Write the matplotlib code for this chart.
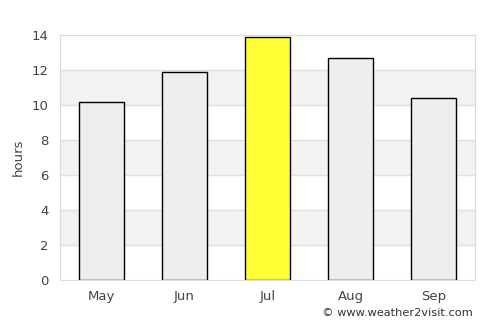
import matplotlib
matplotlib.use("Agg")
import matplotlib.pyplot as plt

months = ["May", "Jun", "Jul", "Aug", "Sep"]
hours = [10.2, 11.9, 13.9, 12.7, 10.4]
colors = ["#eeeeee", "#eeeeee", "#ffff33", "#eeeeee", "#eeeeee"]
yticks = [0, 2, 4, 6, 8, 10, 12, 14]

fig = plt.figure(figsize=(5, 3.25), dpi=100)
ax = fig.add_axes([60/500, 1-280/325, 415/500, 245/325])

for lo in (2, 6, 10):
    ax.axhspan(lo, lo+2, color="#f2f2f2", zorder=0, lw=0)
for y in yticks[1:-1]:
    ax.axhline(y, color="#e0e0e0", lw=1, zorder=0.5)

x = list(range(len(months)))
ax.bar(x, hours, width=0.54, color=colors, edgecolor="black", linewidth=1, zorder=2)

ax.set_xlim(-0.5, 4.5)
ax.set_ylim(0, 14)
ax.set_yticks(yticks)
ax.set_xticks(x)
ax.set_xticklabels(months)
ax.tick_params(axis="both", length=0, labelsize=9.5, labelcolor="#444444")
ax.tick_params(axis="y", pad=8)
ax.tick_params(axis="x", pad=7)
for s in ax.spines.values():
    s.set_color("#dddddd")
ax.set_ylabel("hours", fontsize=9.5, color="#444444")
ax.yaxis.set_label_coords(-0.084, 0.5)

fig.text(473/500, 1-313/325, "© www.weather2visit.com", ha="right", va="center",
         fontsize=8.2, color="#333333")

fig.savefig("out.png", dpi=100)
